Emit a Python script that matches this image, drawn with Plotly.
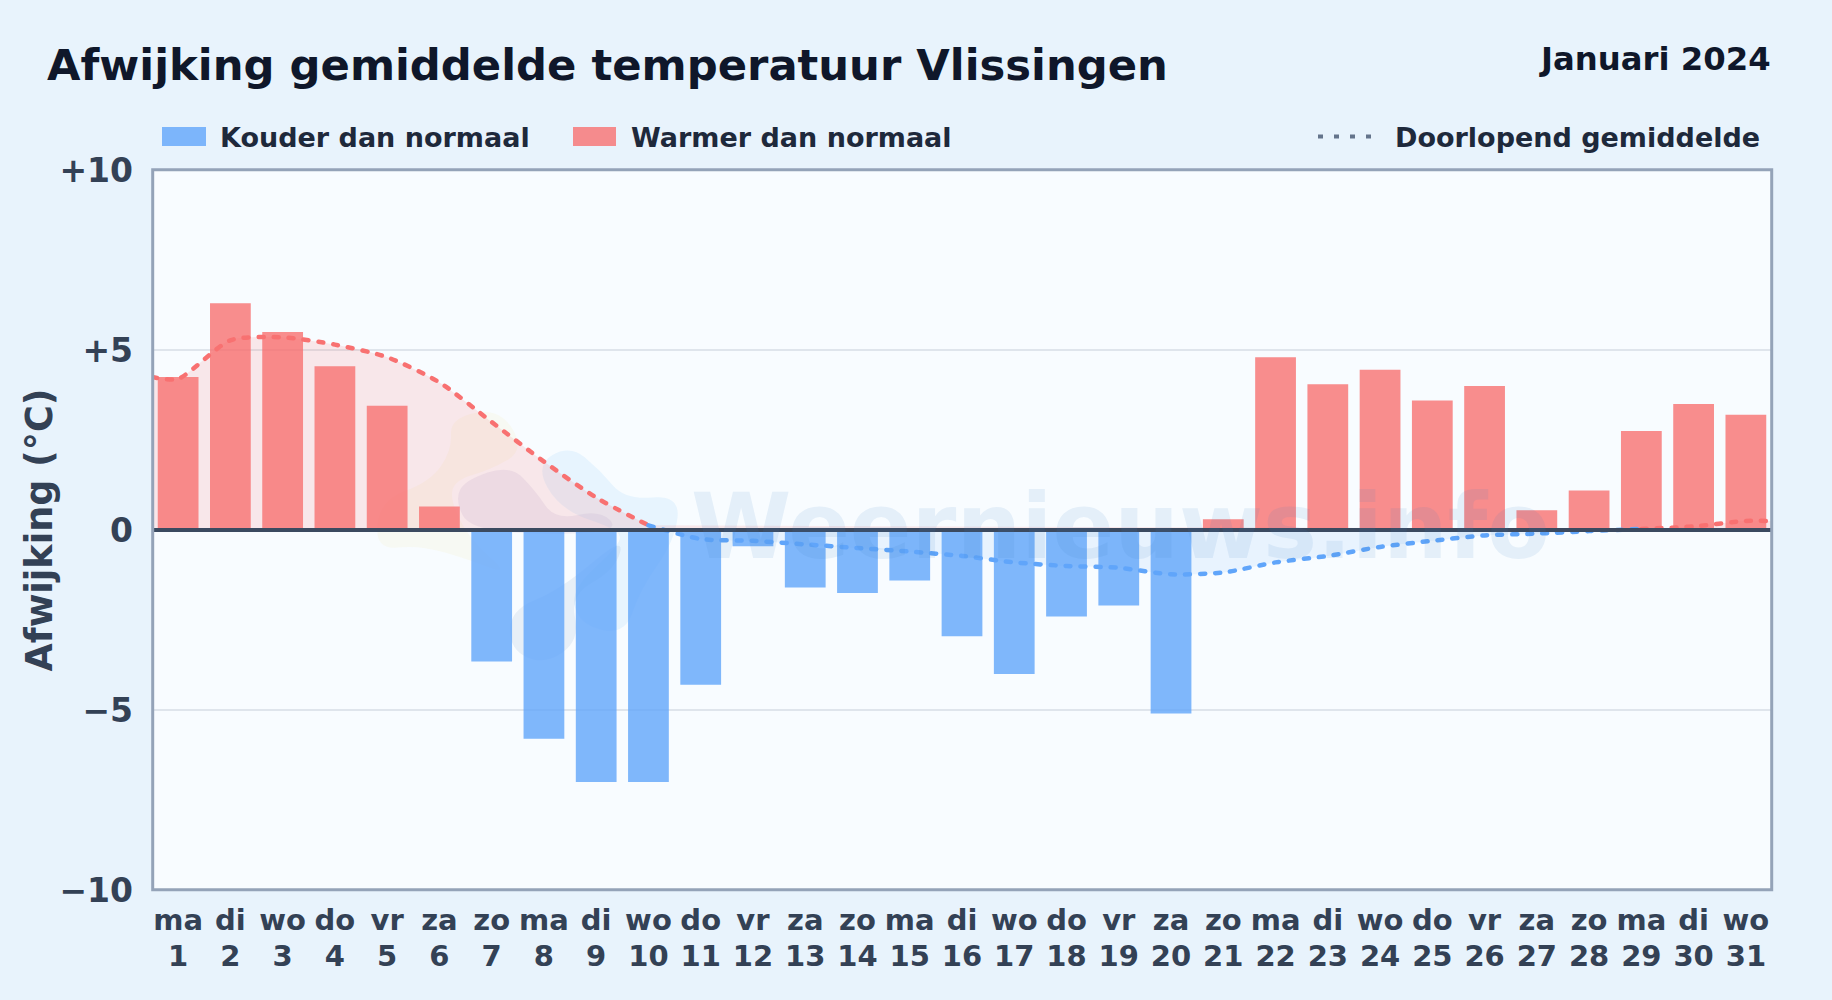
import plotly.graph_objects as go

# ---------- data ----------
days = list(range(1, 32))
weekdays = ["ma", "di", "wo", "do", "vr", "za", "zo"] * 4 + ["ma", "di", "wo"]
deviation = [4.25, 6.3, 5.5, 4.55, 3.45, 0.65, -3.65, -5.8, -7.0, -7.0, -4.3, -0.45, -1.6, -1.75, -1.4,
             -2.95, -4.0, -2.4, -2.1, -5.1, 0.3, 4.8, 4.05, 4.45, 3.6, 4.0, 0.55, 1.1, 2.75, 3.5, 3.2]
avg_x = [0.5] + days + [31.5]
avg_y = [4.25, 4.2, 5.27, 5.35, 5.15, 4.8, 4.1, 3.0, 1.9, 0.9, 0.13, -0.25, -0.3, -0.4, -0.5, -0.6,
         -0.72, -0.9, -1.0, -1.05, -1.23, -1.18, -0.9, -0.72, -0.47, -0.3, -0.15, -0.1, -0.03,
         0.03, 0.1, 0.25, 0.25]
y_ticks = [10, 5, 0, -5, -10]
y_labels = ["+10", "+5", "0", "\u22125", "\u221210"]
title_text = "Afwijking gemiddelde temperatuur Vlissingen"
period_text = "Januari 2024"
axis_title = "Afwijking (\u00b0C)"
cold_label, warm_label, avg_label = "Kouder dan normaal", "Warmer dan normaal", "Doorlopend gemiddelde"

# ---------- style ----------
W, H = 1832, 1000
L, R, T, B = 152, 1772, 170, 890
FONT = "DejaVu Sans"
BLUE, RED = "#60a5fa", "#f87171"
def px(x): return (x - L) / (R - L)
def py(y): return (B - y) / (B - T)

fig = go.Figure()
fig.add_bar(x=days, y=deviation, width=0.78, name="Afwijking",
            marker=dict(color=[RED if v > 0 else BLUE for v in deviation], opacity=0.8, line_width=0))

warm = [v if (x <= 10 or x >= 29) else None for x, v in zip(avg_x, avg_y)]
cold = [v if 10 <= x <= 29 else None for x, v in zip(avg_x, avg_y)]
for ys, fill in ((warm, "rgba(248,113,113,0.15)"), (cold, "rgba(96,165,250,0.10)")):
    fig.add_scatter(x=avg_x, y=ys, mode="none", fill="tozeroy", fillcolor=fill, connectgaps=False,
                    line=dict(shape="spline", smoothing=0.7), hoverinfo="skip")
for ys, col in ((warm, RED), (cold, BLUE)):
    fig.add_scatter(x=avg_x, y=ys, mode="lines", name=avg_label, connectgaps=False,
                    line=dict(color=col, width=4.5, shape="spline", smoothing=0.7, dash="5px,10px"))
# invisible trace that carries the weekday axis
fig.add_scatter(x=days, y=deviation, xaxis="x2", mode="markers", marker=dict(opacity=0), hoverinfo="skip")

def text(x, y, s, size, color, anchor="left", **kw):
    return dict(x=px(x), y=py(y), xref="paper", yref="paper", text=s, showarrow=False, xanchor=anchor,
                yanchor="middle", font=dict(family=FONT, size=size, color=color, weight=700), **kw)

annots = [
    text(45, 65, title_text, 43.3, "#0f172a"),
    text(1773, 59, period_text, 32.3, "#0f172a", "right"),
    text(217.5, 138, cold_label, 27, "#1e293b"),
    text(628.5, 138, warm_label, 27, "#1e293b"),
    text(1762, 138, avg_label, 27, "#1e293b", "right"),
    text(1120, 526, "Weernieuws.info", 91, "rgba(60,130,195,0.10)", "center"),
    text(38.5, 530, axis_title, 36.5, "#334155", "center", textangle=-90),
]

def blob(points, color):
    pts = [(px(a), py(b)) for a, b in points]
    n = len(pts)
    mid = lambda p, q: ((p[0] + q[0]) / 2, (p[1] + q[1]) / 2)
    m0 = mid(pts[-1], pts[0])
    d = f"M {m0[0]:.5f},{m0[1]:.5f} "
    for i in range(n):
        m = mid(pts[i], pts[(i + 1) % n])
        d += f"Q {pts[i][0]:.5f},{pts[i][1]:.5f} {m[0]:.5f},{m[1]:.5f} "
    return dict(type="path", path=d + "Z", xref="paper", yref="paper", fillcolor=color, line_width=0, layer="below")

logo = [
    blob([(450, 418), (500, 408), (525, 450), (490, 470), (455, 480), (450, 500), (470, 540), (510, 575),
          (470, 560), (420, 545), (375, 550), (380, 500), (430, 482), (452, 450)], "rgba(245,230,150,0.11)"),
    blob([(465, 480), (510, 465), (535, 490), (555, 520), (600, 510), (620, 530), (560, 535), (470, 530), (455, 500)],
         "rgba(120,90,170,0.09)"),
    blob([(535, 465), (570, 445), (600, 470), (625, 500), (680, 495), (675, 540), (640, 590), (625, 635), (580, 625),
          (570, 590), (620, 545), (620, 530), (560, 510)], "rgba(125,200,250,0.14)"),
    blob([(510, 610), (560, 590), (625, 535), (615, 570), (570, 595), (580, 640), (545, 665), (510, 650)],
         "rgba(70,110,170,0.09)"),
]

shapes = logo + [
    dict(type="line", xref="paper", yref="y", x0=0, x1=1, y0=0, y1=0, line=dict(color="#3b4a60", width=4), layer="above"),
    dict(type="rect", xref="paper", yref="paper", x0=px(152.7), x1=px(1771.7), y0=py(889.8), y1=py(169.7),
         line=dict(color="#94a3b8", width=3), fillcolor="rgba(0,0,0,0)", layer="above"),
    dict(type="rect", xref="paper", yref="paper", x0=px(162), x1=px(206), y0=py(127), y1=py(146),
         fillcolor="rgba(96,165,250,0.8)", line_width=0),
    dict(type="rect", xref="paper", yref="paper", x0=px(573), x1=px(616), y0=py(127), y1=py(146),
         fillcolor="rgba(248,113,113,0.8)", line_width=0),
    dict(type="line", xref="paper", yref="paper", x0=px(1318), x1=px(1377), y0=py(136.5), y1=py(136.5),
         line=dict(color="#64748b", width=4, dash="5px,11px")),
]

tickfont = dict(family=FONT, size=29, color="#334155", weight=700)
fig.update_layout(
    width=W, height=H, autosize=False, showlegend=False, hovermode=False, barmode="overlay",
    margin=dict(l=L, r=W - R, t=T, b=H - B, pad=0),
    paper_bgcolor="#e8f3fc", plot_bgcolor="#f8fcff",
    font=dict(family=FONT, color="#334155"),
    annotations=annots, shapes=shapes,
    xaxis=dict(range=[0.5, 31.5], tickmode="array", tickvals=days, ticktext=[str(d) for d in days],
               showgrid=False, zeroline=False, showline=False,
               ticks="", tickangle=0, tickfont=tickfont, ticklabelstandoff=46),
    xaxis2=dict(range=[0.5, 31.5], overlaying="x", side="bottom", anchor="y", tickmode="array", tickvals=days,
                ticktext=weekdays, showgrid=False, zeroline=False, showline=False, ticks="", tickangle=0,
                tickfont=tickfont, ticklabelstandoff=10),
    yaxis=dict(range=[-10, 10], tickmode="array", tickvals=y_ticks, ticktext=y_labels,
               gridcolor="#dfe5ec", gridwidth=1.5, zeroline=False, showline=False, ticks="", ticklabelstandoff=18,
               tickfont=dict(family=FONT, size=33, color="#334155", weight=700)),
)

post = """
document.documentElement.style.margin='0'; document.body.style.margin='0';
document.body.style.overflow='hidden';
document.querySelectorAll('.scatterlayer .js-line').forEach(function(p){p.style.strokeLinecap='round';});
"""
fig.write_html("out.html", post_script=post, config={"displayModeBar": False})
